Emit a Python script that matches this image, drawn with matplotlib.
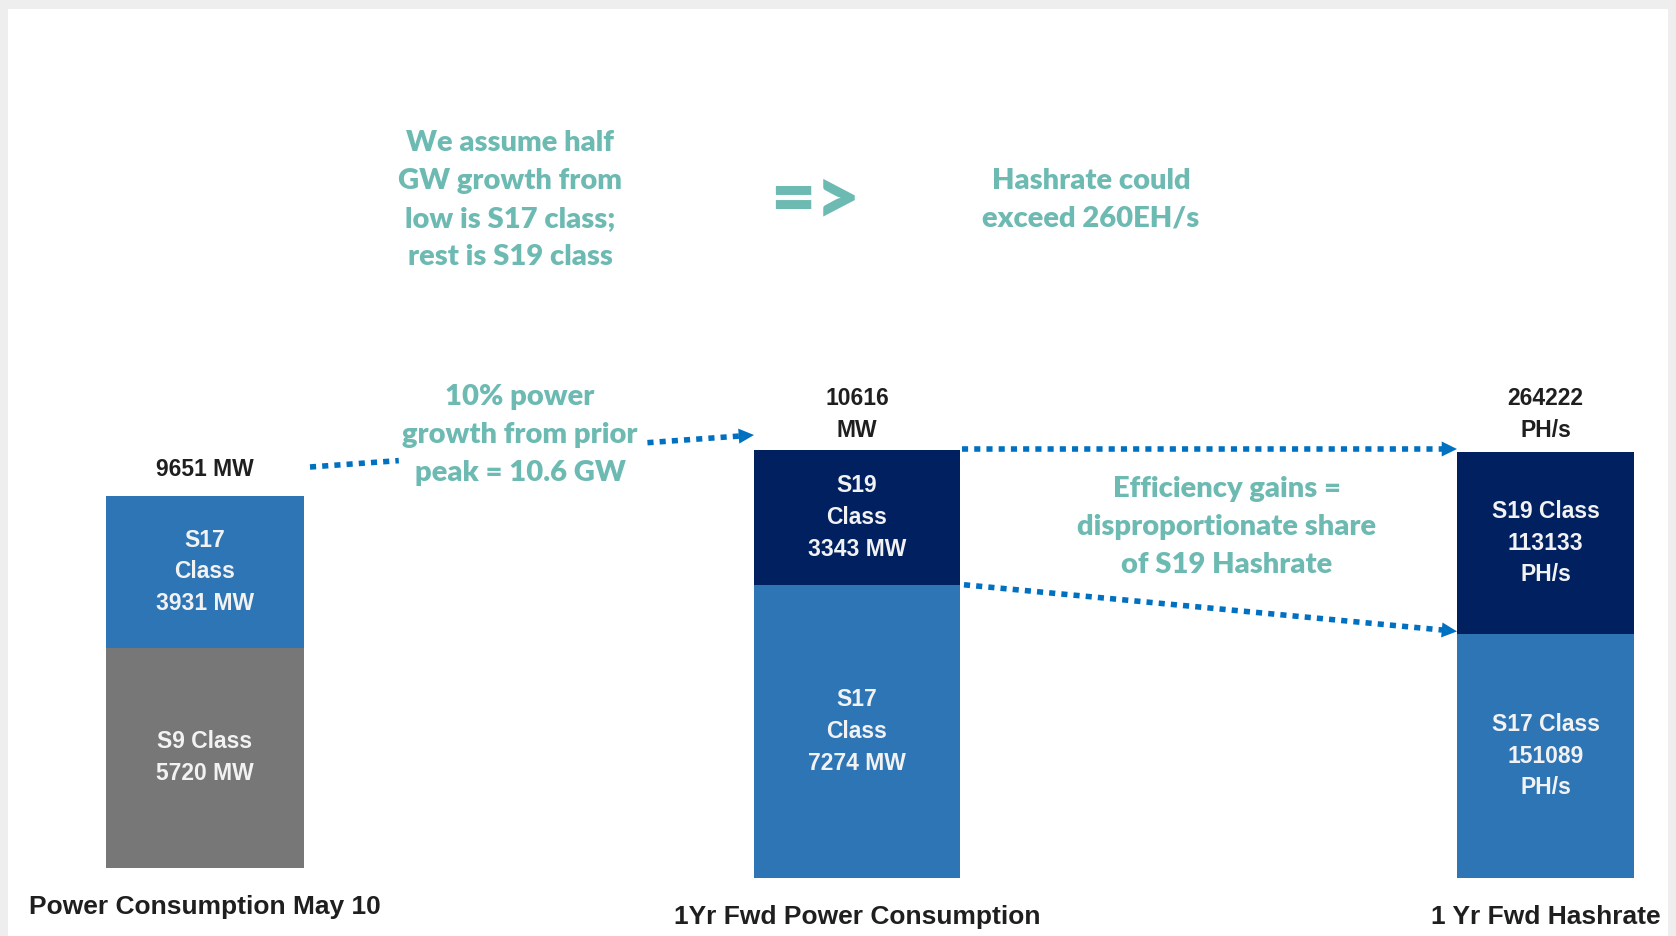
import matplotlib
matplotlib.use("Agg")
import matplotlib.pyplot as plt
from matplotlib.patches import Rectangle
import numpy as np

# data
bar_titles = ["Power Consumption May 10", "1Yr Fwd Power Consumption", "1 Yr Fwd Hashrate"]
total_labels = ["9651 MW", "10616\nMW", "264222\nPH/s"]
lower_vals = [5720, 7274, 151089]
upper_vals = [3931, 3343, 113133]
lower_labels = ["S9 Class\n5720 MW", "S17\nClass\n7274 MW", "S17 Class\n151089\nPH/s"]
upper_labels = ["S17\nClass\n3931 MW", "S19\nClass\n3343 MW", "S19 Class\n113133\nPH/s"]
lower_colors = ["#777777", "#2E75B6", "#2E75B6"]
upper_colors = ["#2E75B6", "#002060", "#002060"]

notes = [
    "We assume half\nGW growth from\nlow is S17 class;\nrest is S19 class",
    "Hashrate could\nexceed 260EH/s",
    "10% power\ngrowth from prior\npeak = 10.6 GW",
    "Efficiency gains =\ndisproportionate share\nof S19 Hashrate",
]

W, H = 1676, 936
TEAL = "#6DBAB3"
ARROW = "#0070C0"
NARROW = ["Liberation Sans", "DejaVu Sans"]
TEALFONT = ["Lato", "DejaVu Sans"]

fig = plt.figure(figsize=(W / 100, H / 100), dpi=100, facecolor="#eeeeee")
fig.add_artist(Rectangle((8 / W, 0), 1660 / W, (H - 9) / H, transform=fig.transFigure,
                         facecolor="white", edgecolor="none", zorder=-5))


def px_axes(x0, y0, x1, y1):
    # box given in pixels, origin at top left
    return fig.add_axes([x0 / W, 1 - y1 / H, (x1 - x0) / W, (y1 - y0) / H])


boxes = [(106, 496, 304, 868), (754, 450, 960, 878), (1457, 452, 1634, 878)]
gaps = [20, 13, 15]  # px between bar top and total label
axes = []
for i, box in enumerate(boxes):
    ax = px_axes(*box)
    total = lower_vals[i] + upper_vals[i]
    ax.bar(0, lower_vals[i], width=1, color=lower_colors[i])
    ax.bar(0, upper_vals[i], bottom=lower_vals[i], width=1, color=upper_colors[i])
    ax.set_xlim(-0.5, 0.5)
    ax.set_ylim(0, total)
    ax.axis("off")
    kw = dict(ha="center", va="center", color="#F2F2F2", fontsize=16.5, fontweight="bold",
              family=NARROW, linespacing=1.48)
    ax.text(0, lower_vals[i] / 2, lower_labels[i], **kw)
    ax.text(0, lower_vals[i] + upper_vals[i] / 2, upper_labels[i], **kw)
    ax.annotate(total_labels[i], (0, total), xytext=(0, gaps[i] * 0.72), textcoords="offset points",
                ha="center", va="baseline", fontsize=16.5, fontweight="bold", family=NARROW,
                color="#1F1F1F", linespacing=1.48, annotation_clip=False)
    ax.annotate(bar_titles[i], (0, 0), xytext=(0, -28), textcoords="offset points",
                ha="center", va="center", fontsize=19, fontweight="bold", family=NARROW,
                color="#1F1F1F", annotation_clip=False)
    axes.append(ax)

# overlay in pixel coordinates for notes and arrows
ov = fig.add_axes([0, 0, 1, 1])
ov.set_xlim(0, W)
ov.set_ylim(H, 0)
ov.axis("off")

note_pos = [(510, 200), (1091, 200), (520, 435), (1227, 527)]
for txt, (x, y) in zip(notes, note_pos):
    ov.text(x, y, txt, ha="center", va="center", color=TEAL, fontsize=21, fontweight="heavy",
            family=TEALFONT, linespacing=1.56)
ov.text(815, 201, "=>", ha="center", va="center", color=TEAL, fontsize=56, fontweight="heavy",
        family=TEALFONT)


def to_px(ax, x, y):
    d = ax.transData.transform((x, y))
    return ov.transData.inverted().transform(d)


def dotted(p0, p1, head=False):
    p0, p1 = np.asarray(p0, float), np.asarray(p1, float)
    end = p1
    if head:
        u = (p1 - p0) / np.hypot(*(p1 - p0))
        end = p1 - u * 15
        ov.annotate("", xy=p1, xytext=end, arrowprops=dict(
            arrowstyle="-|>,head_length=0.55,head_width=0.27", color=ARROW, lw=0,
            shrinkA=0, shrinkB=0, mutation_scale=20))
    ov.plot([p0[0], end[0]], [p0[1], end[1]], color=ARROW, lw=4, linestyle=(0, (1.1, 1.1)),
            dash_capstyle="butt")


ax1, ax2, ax3 = axes
t1 = lower_vals[0] + upper_vals[0]
t2 = lower_vals[1] + upper_vals[1]
t3 = lower_vals[2] + upper_vals[2]

# bar 1 -> bar 2, broken around the note
a = to_px(ax1, 0.5, t1) + [6, -29]
b = to_px(ax2, -0.5, t2) + [0, -15]
d = b - a
dotted(a, a + d * 0.2)
dotted(a + d * 0.76, b, head=True)

# bar 2 -> bar 3
dotted(to_px(ax2, 0.5, t2) + [2, -1], to_px(ax3, -0.5, t3) + [0, -3], head=True)
dotted(to_px(ax2, 0.5, lower_vals[1]) + [4, 0], to_px(ax3, -0.5, lower_vals[2]) + [0, -3], head=True)

fig.savefig("out.png", dpi=100, facecolor=fig.get_facecolor())
